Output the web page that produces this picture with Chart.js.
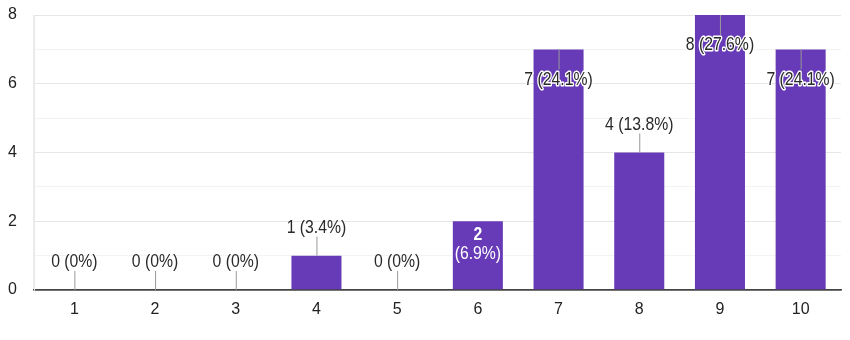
<!DOCTYPE html>
<html>
<head>
<meta charset="utf-8">
<script src="https://cdn.jsdelivr.net/npm/chart.js@4"></script>
<style>
  html, body { margin: 0; padding: 0; background: #fff; }
  #wrap { width: 850px; height: 340px; }
</style>
</head>
<body>
<div id="wrap"><canvas id="scoreChart"></canvas></div>
<script>
const categories = ["1", "2", "3", "4", "5", "6", "7", "8", "9", "10"];
const counts = [0, 0, 0, 1, 0, 2, 7, 4, 8, 7];
const yTicks = [0, 2, 4, 6, 8];
// where each label sits: above the bar, inside with halo, or inside white
const placement = ["out", "out", "out", "out", "out", "white", "in", "out", "in", "in"];

const FONT = "'Liberation Sans', Arial, sans-serif";
const total = counts.reduce((a, b) => a + b, 0);
const pct = v => (Math.round(v / total * 1000) / 10) + "%";

// narrow text, the reference looks horizontally squeezed
function narrowText(ctx, text, x, y, halo) {
  ctx.save();
  ctx.translate(x, y);
  ctx.scale(0.83, 1);
  if (halo) {
    ctx.lineWidth = 3;
    ctx.strokeStyle = "#fff";
    ctx.lineJoin = "round";
    ctx.strokeText(text, 0, 0);
  }
  ctx.fillText(text, 0, 0);
  ctx.restore();
}

const barLabels = {
  id: "barLabels",
  afterDatasetsDraw(chart) {
    const ctx = chart.ctx;
    const meta = chart.getDatasetMeta(0);
    ctx.save();
    ctx.textAlign = "center";
    ctx.textBaseline = "middle";
    meta.data.forEach((bar, i) => {
      const v = counts[i];
      const text = v + " (" + pct(v) + ")";
      const x = bar.x, top = bar.y;
      if (placement[i] === "white") {
        ctx.fillStyle = "#fff";
        ctx.font = "bold 19px " + FONT;
        narrowText(ctx, String(v), x, top + 14);
        ctx.font = "19px " + FONT;
        narrowText(ctx, "(" + pct(v) + ")", x, top + 33);
        return;
      }
      ctx.strokeStyle = "#999";
      ctx.lineWidth = 1;
      ctx.beginPath();
      ctx.font = "19px " + FONT;
      ctx.fillStyle = "#2a2a2a";
      if (placement[i] === "in") {
        ctx.moveTo(x + 0.5, top);
        ctx.lineTo(x + 0.5, top + 20);
        ctx.stroke();
        narrowText(ctx, text, x, top + 30, true);
      } else {
        ctx.moveTo(x + 0.5, top);
        ctx.lineTo(x + 0.5, top - 19);
        ctx.stroke();
        narrowText(ctx, text, x, top - 28);
      }
    });
    ctx.restore();
  }
};

new Chart(document.getElementById("scoreChart"), {
  type: "bar",
  data: {
    labels: categories,
    datasets: [{
      data: counts,
      backgroundColor: "#673ab7",
      categoryPercentage: 1,
      barPercentage: 0.62
    }]
  },
  plugins: [barLabels],
  options: {
    responsive: true,
    maintainAspectRatio: false,
    animation: false,
    layout: { padding: { top: 15, right: 9, left: 0, bottom: 0 } },
    plugins: { legend: { display: false }, tooltip: { enabled: false } },
    scales: {
      x: {
        afterFit: s => { s.height = 50; },
        grid: {
          offset: true,
          drawTicks: false,
          color: c => (c.index === 0 || c.index === categories.length) ? "#ebebeb" : "rgba(0,0,0,0)"
        },
        border: { color: "#444", width: 1.5 },
        ticks: { color: "#222", padding: 10, font: { family: FONT, size: 16 } }
      },
      y: {
        min: 0,
        max: 8,
        afterFit: s => { s.width = 34; s.paddingTop = 0; s.paddingBottom = 0; },
        afterBuildTicks: s => {
          s.ticks = [0, 1, 2, 3, 4, 5, 6, 7, 8].map(v => ({ value: v }));
        },
        grid: {
          drawTicks: false,
          color: c => c.tick.value === 0 ? "#444" : (yTicks.includes(c.tick.value) ? "#e6e6e6" : "#f3f3f3"),
          lineWidth: c => c.tick.value === 0 ? 1.5 : 1
        },
        border: { color: "#ebebeb" },
        ticks: {
          color: "#222",
          padding: 17,
          font: { family: FONT, size: 16 },
          callback: v => yTicks.includes(v) ? v : ""
        }
      }
    }
  }
});
</script>
</body>
</html>
